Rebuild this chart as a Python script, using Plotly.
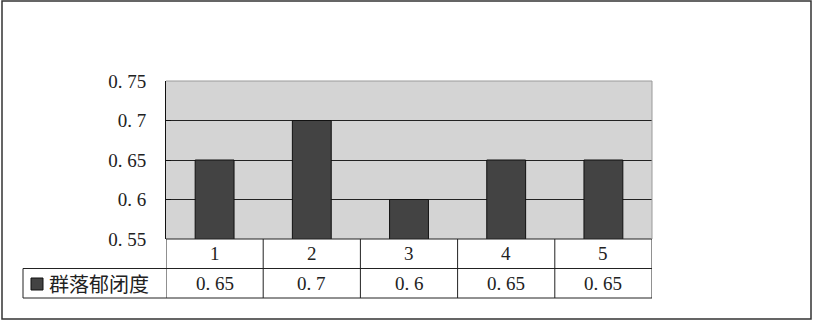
import plotly.graph_objects as go

categories = ["1", "2", "3", "4", "5"]
series_name = "群落郁闭度"
values = [0.65, 0.7, 0.6, 0.65, 0.65]
y_ticks = [0.55, 0.6, 0.65, 0.7, 0.75]

W, H = 814, 323
L, R, T, B = 166, 162, 81, 84
PW = W - L - R
PH = H - T - B

def px_x(x):
    return (x - L) / PW

def px_y(y):
    return (H - B - y) / PH

def fmt(v):
    s = ("%g" % v)
    return s.replace(".", ". ")

BAR = "#434343"
LINE = "#222222"
serif = "Liberation Serif, DejaVu Serif, serif"
cjk = "Noto Sans CJK SC, sans-serif"
FS = 19

fig = go.Figure()
fig.add_trace(go.Bar(
    x=list(range(len(categories))), y=values, width=0.4,
    marker=dict(color=BAR, line=dict(color="#111111", width=1)),
    name=series_name, showlegend=False, hoverinfo="skip",
))

shapes = []
annotations = []
row1_bot = -29.5 / PH
row2_bot = -59.0 / PH

for y0 in [0, row1_bot]:
    shapes.append(dict(type="line", xref="paper", yref="paper",
                       x0=0 if y0 == 0 else px_x(23), x1=1, y0=y0, y1=y0,
                       line=dict(color=LINE, width=1)))
shapes.append(dict(type="line", xref="paper", yref="paper",
                   x0=px_x(23), x1=1, y0=row2_bot, y1=row2_bot,
                   line=dict(color=LINE, width=1)))
n = len(categories)
for k in range(n + 1):
    shapes.append(dict(type="line", xref="x", yref="paper",
                       x0=k - 0.5, x1=k - 0.5, y0=0, y1=row2_bot,
                       line=dict(color=LINE, width=1)))
shapes.append(dict(type="line", xref="paper", yref="paper",
                   x0=px_x(23), x1=px_x(23), y0=row1_bot, y1=row2_bot,
                   line=dict(color=LINE, width=1)))
shapes.append(dict(type="rect", xref="paper", yref="paper",
                   x0=px_x(31), x1=px_x(43), y0=px_y(278), y1=px_y(290),
                   fillcolor=BAR, line=dict(color="#111111", width=1)))
shapes.append(dict(type="line", xref="paper", yref="paper",
                   x0=0, x1=1, y0=1, y1=1, line=dict(color="#9a9a9a", width=1)))
shapes.append(dict(type="line", xref="paper", yref="paper",
                   x0=1, x1=1, y0=0, y1=1, line=dict(color="#9a9a9a", width=1)))
shapes.append(dict(type="rect", xref="paper", yref="paper",
                   x0=px_x(2), x1=px_x(811), y0=px_y(319), y1=px_y(1),
                   line=dict(color="#333333", width=1.5), fillcolor="rgba(0,0,0,0)"))

for i, c in enumerate(categories):
    annotations.append(dict(xref="x", yref="paper", x=i, y=row1_bot / 2,
                            text=c, showarrow=False, yanchor="middle",
                            font=dict(family=serif, size=FS, color="#222")))
    annotations.append(dict(xref="x", yref="paper", x=i, y=(row1_bot + row2_bot) / 2,
                            text=fmt(values[i]), showarrow=False, yanchor="middle",
                            font=dict(family=serif, size=FS, color="#222")))
annotations.append(dict(xref="paper", yref="paper", x=px_x(47), y=(row1_bot + row2_bot) / 2,
                        text=series_name, showarrow=False, xanchor="left", yanchor="middle",
                        font=dict(family=cjk, size=20, color="#222")))

fig.update_layout(
    width=W, height=H,
    margin=dict(l=L, r=R, t=T, b=B, pad=0),
    paper_bgcolor="white", plot_bgcolor="#d4d4d4",
    bargap=0.6,
    shapes=shapes, annotations=annotations,
    xaxis=dict(range=[-0.5, n - 0.5], showticklabels=False, showgrid=False,
               zeroline=False, showline=False, ticks=""),
    yaxis=dict(range=[y_ticks[0], y_ticks[-1]], tickvals=y_ticks,
               ticktext=[fmt(v) for v in y_ticks],
               showgrid=True, gridcolor="#222222", gridwidth=1,
               zeroline=False, showline=True, linecolor="#111111", linewidth=1,
               ticks="inside", ticklen=5, tickcolor="#111111",
               tickfont=dict(family=serif, size=FS, color="#222"), ticklabelstandoff=15),
)

fig.write_html("out.html")
